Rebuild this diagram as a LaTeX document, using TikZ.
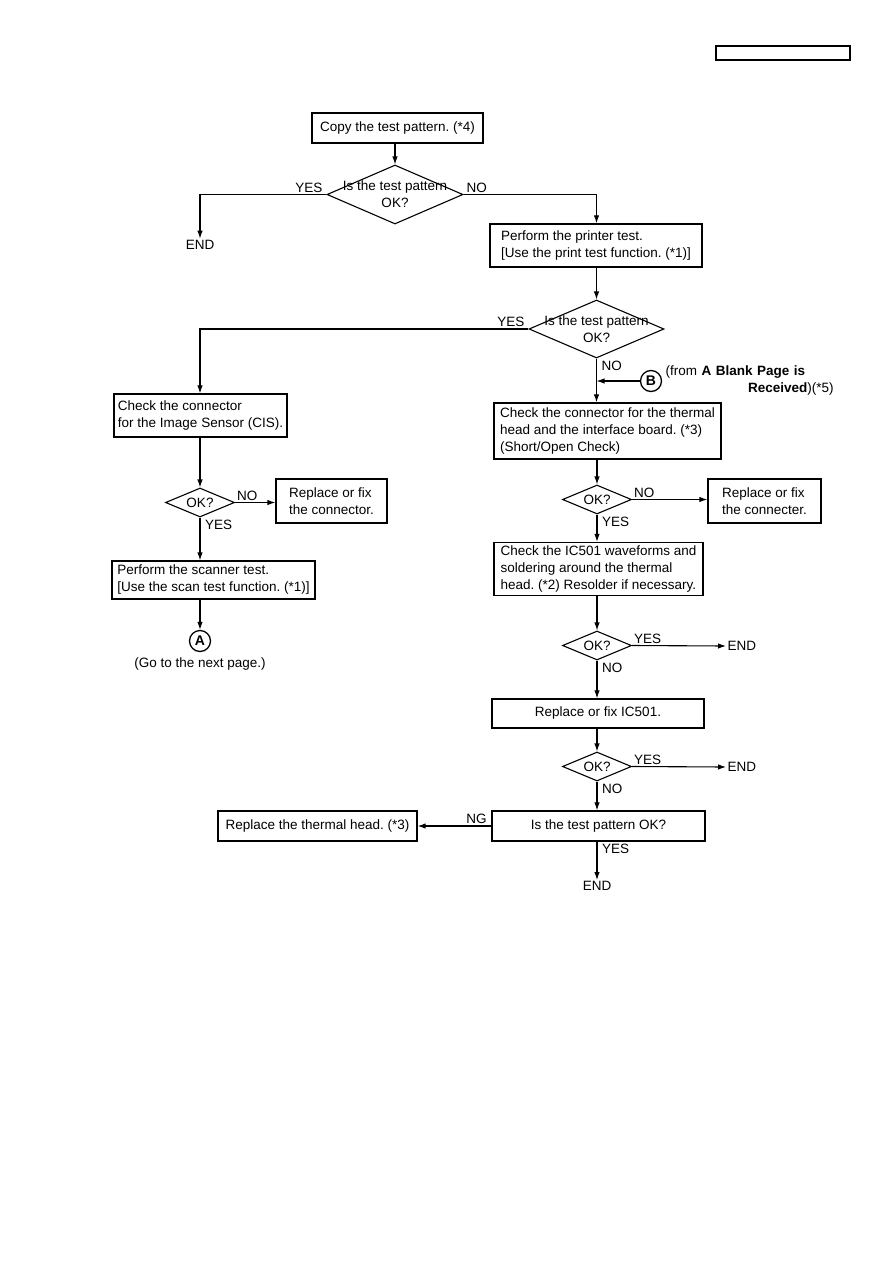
\documentclass[tikz,border=0pt]{standalone}
\usepackage{fontspec}
\setmainfont{Liberation Sans}
\usetikzlibrary{positioning,arrows.meta,shapes.geometric}
\frenchspacing

\begin{document}
\begin{tikzpicture}[x=1pt, y=-1pt,
  font=\fontsize{13.5}{17}\selectfont,
  box/.style={draw, line width=1.3pt, inner sep=0, align=left},
  dec/.style={draw, diamond, line width=1.1pt, inner sep=0, minimum width=69pt, minimum height=29pt},
  conn/.style={draw, circle, line width=1.3pt, minimum size=21pt, inner sep=0,
               font=\fontsize{14}{16}\selectfont\bfseries},
  lab/.style={inner sep=1.5pt},
  arr/.style={-{Latex[length=8pt,width=5.5pt]}, line width=1.1pt}]
\useasboundingbox (0,0) rectangle (893,1263);
\node[draw, line width=1.3pt, minimum width=134pt, minimum height=14pt, inner sep=0] (hdr) at (783,53) {};
% top of the chart
\node[box, minimum width=171pt, minimum height=30pt] (copy) at (397.5,128) {Copy the test pattern. (*4)};
\node[dec, minimum width=136pt, minimum height=59pt,
      label={[align=center, inner sep=0]center:Is the test pattern\\OK?}] (d1) at (395,194.5) {};
\node[lab] (end1) at (200,245) {END};
\node[box, minimum width=212pt, minimum height=43pt] (prn) at (596,245.5)
  {Perform the printer test.\\{}[Use the print test function. (*1)]};
\node[dec, minimum width=135pt, minimum height=58pt,
      label={[align=center, inner sep=0]center:Is the test pattern\\OK?}] (d2) at (596.5,329) {};
% scanner branch
\node[box, minimum width=173pt, minimum height=43pt] (cis) at (200.5,415.5)
  {Check the connector\\for the Image Sensor (CIS).};
\node[dec, label={center:OK?}] (d3) at (200,502.5) {};
\node[box, minimum width=111pt, minimum height=44pt] (rfc) at (331.5,501)
  {Replace or fix\\the connector.};
\node[box, minimum width=203pt, minimum height=38pt] (scn) at (213.5,580)
  {Perform the scanner test.\\{}[Use the scan test function. (*1)]};
\node[conn] (A) at (200,641) {A};
\node[lab] (next) at (200,664) {(Go to the next page.)};
% printer branch
\node[conn] (B) at (651,381) {B};
\node[lab, anchor=north west, text width=168pt, align=left] (fromB) at (664,364)
  {(from \textbf{A Blank Page is}\\\hskip 0pt plus 1filll\textbf{Received})(*5)};
\coordinate (jB) at (d2.south |- B.west);
\node[box, minimum width=227pt, minimum height=56pt] (thm) at (607.5,431)
  {Check the connector for the thermal\\head and the interface board. (*3)\\(Short/Open Check)};
\node[dec, label={center:OK?}] (d4) at (597,499.5) {};
\node[box, minimum width=113pt, minimum height=44pt] (rfc2) at (764.5,501)
  {Replace or fix\\the connecter.};
\node[box, minimum width=209pt, minimum height=53pt] (ic) at (598.5,569)
  {Check the IC501 waveforms and\\soldering around the thermal\\head. (*2) Resolder if necessary.};
\node[dec, label={center:OK?}] (d5) at (597,645.5) {};
\node[lab, anchor=west] (end2) at (726,646) {END};
\node[box, minimum width=212pt, minimum height=29pt] (fix) at (598,713.5) {Replace or fix IC501.};
\node[dec, label={center:OK?}] (d6) at (597,766.5) {};
\node[lab, anchor=west] (end3) at (726,767) {END};
\node[box, minimum width=213pt, minimum height=30pt] (pat) at (598.5,826) {Is the test pattern OK?};
\node[box, minimum width=199pt, minimum height=30pt] (head) at (317.5,826) {Replace the thermal head. (*3)};
\node[lab, anchor=north] (end4) at (597,880) {END};
% connectors
\draw[arr] (copy.south -| d1.north) -- (d1.north);
\draw[arr] (d1.west) node[lab, anchor=south east, xshift=-2pt]{YES} -| (end1.north);
\draw[arr] (d1.east) node[lab, anchor=south west, xshift=1pt]{NO} -| (prn.north -| d2.north);
\draw[arr] (prn.south -| d2.north) -- (d2.north);
\draw[arr] (d2.west) node[lab, anchor=south east, xshift=-2pt]{YES} -| (cis.north -| d3.north);
\draw[arr] (cis.south -| d3.north) -- (d3.north);
\draw[arr] (d3.east) node[lab, anchor=south west]{NO} -- (d3.east -| rfc.west);
\draw[arr] (d3.south) node[lab, anchor=north west, xshift=3pt]{YES} -- (scn.north -| d3.south);
\draw[arr] (scn.south -| A.north) -- (A.north);
\draw[arr] (d2.south) node[lab, anchor=north west, xshift=3pt]{NO} -- (thm.north -| d2.south);
\draw[arr] (B.west) -- (jB);
\draw[arr] (thm.south -| d4.north) -- (d4.north);
\draw[arr] (d4.east) node[lab, anchor=south west]{NO} -- (d4.east -| rfc2.west);
\draw[arr] (d4.south) node[lab, anchor=north west, xshift=3pt]{YES} -- (ic.north -| d4.south);
\draw[arr] (ic.south -| d5.north) -- (d5.north);
\draw[arr] (d5.east) node[lab, anchor=south west]{YES} -- (end2.west);
\draw[arr] (d5.south) node[lab, anchor=north west, xshift=3pt]{NO} -- (fix.north -| d5.south);
\draw[arr] (fix.south -| d6.north) -- (d6.north);
\draw[arr] (d6.east) node[lab, anchor=south west]{YES} -- (end3.west);
\draw[arr] (d6.south) node[lab, anchor=north west, xshift=3pt]{NO} -- (pat.north -| d6.south);
\draw[arr] (pat.west) -- node[lab, pos=0.2, above]{NG} (head.east);
\draw[arr] (pat.south -| end4.north) node[lab, anchor=north west, xshift=3pt]{YES} -- (end4.north);
\end{tikzpicture}
\end{document}
